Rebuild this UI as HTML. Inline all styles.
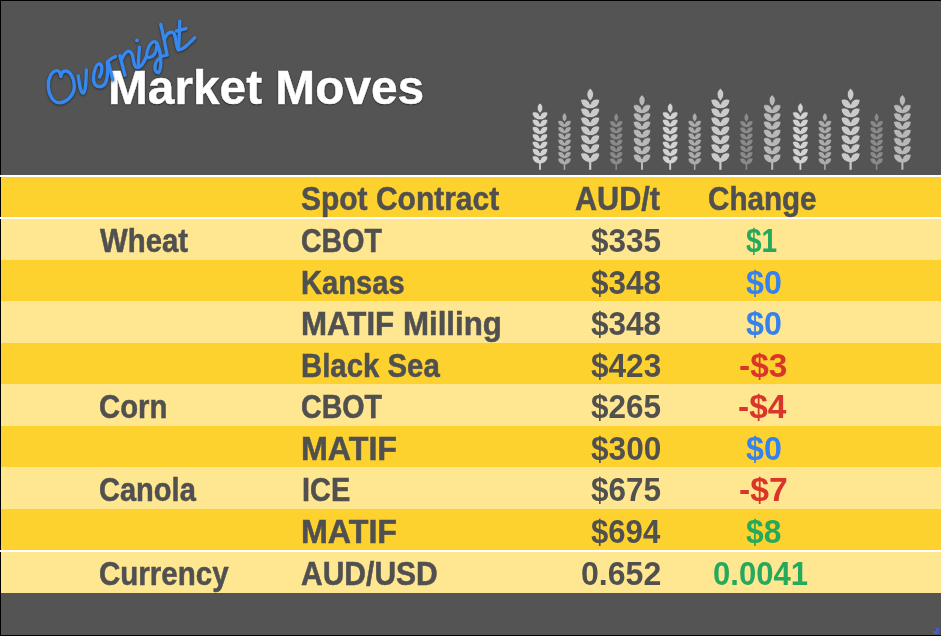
<!DOCTYPE html>
<html><head><meta charset="utf-8"><style>html,body{margin:0;padding:0}
body{width:941px;height:636px;position:relative;overflow:hidden;background:#545454;font-family:"Liberation Sans",sans-serif}
.b{position:absolute;left:0;width:941px}
.t{position:absolute;white-space:nowrap;font-weight:bold;line-height:normal;font-size:32.5px;transform-origin:0 0;-webkit-text-stroke:0.5px currentColor}
</style></head><body>
<div class="b" style="top:175px;height:2px;background:#fff"></div><div class="b" style="top:177px;height:40px;background:#FED22E"></div><div class="b" style="top:217px;height:2px;background:#fff"></div><div class="b" style="top:219px;height:41px;background:#FFE690"></div><div class="b" style="top:260px;height:41px;background:#FED22E"></div><div class="b" style="top:301px;height:42px;background:#FFE690"></div><div class="b" style="top:343px;height:41px;background:#FED22E"></div><div class="b" style="top:384px;height:42px;background:#FFE690"></div><div class="b" style="top:426px;height:41px;background:#FED22E"></div><div class="b" style="top:467px;height:42px;background:#FFE690"></div><div class="b" style="top:509px;height:41px;background:#FED22E"></div><div class="b" style="top:550px;height:2px;background:#fff"></div><div class="b" style="top:552px;height:41px;background:#FFE690"></div><div class="t" style="left:300.93px;top:180.59px;color:#505050;transform:scaleX(0.9225);">Spot Contract</div><div class="t" style="left:574.97px;top:180.59px;color:#505050;transform:scaleX(0.9413);">AUD/t</div><div class="t" style="left:708.48px;top:180.59px;color:#505050;transform:scaleX(0.9111);">Change</div><div class="t" style="left:99.90px;top:222.59px;color:#505050;transform:scaleX(0.9033);">Wheat</div><div class="t" style="left:301.22px;top:222.59px;color:#505050;transform:scaleX(0.8783);">CBOT</div><div class="t" style="left:590.99px;top:222.59px;color:#505050;transform:scaleX(0.9683);-webkit-text-stroke-width:0px;">$335</div><div class="t" style="left:746.06px;top:222.59px;color:#25A95C;transform:scaleX(0.8626);-webkit-text-stroke-width:0px;">$1</div><div class="t" style="left:301.08px;top:264.59px;color:#505050;transform:scaleX(0.8959);">Kansas</div><div class="t" style="left:591.09px;top:264.59px;color:#505050;transform:scaleX(0.9695);-webkit-text-stroke-width:0px;">$348</div><div class="t" style="left:745.98px;top:264.59px;color:#3581EE;transform:scaleX(0.9898);-webkit-text-stroke-width:0px;">$0</div><div class="t" style="left:300.96px;top:305.59px;color:#505050;transform:scaleX(0.9624);">MATIF Milling</div><div class="t" style="left:591.09px;top:305.59px;color:#505050;transform:scaleX(0.9695);-webkit-text-stroke-width:0px;">$348</div><div class="t" style="left:745.98px;top:305.59px;color:#3581EE;transform:scaleX(0.9898);-webkit-text-stroke-width:0px;">$0</div><div class="t" style="left:301.06px;top:347.59px;color:#505050;transform:scaleX(0.9035);">Black Sea</div><div class="t" style="left:591.09px;top:347.59px;color:#505050;transform:scaleX(0.9713);-webkit-text-stroke-width:0px;">$423</div><div class="t" style="left:738.64px;top:347.59px;color:#D9352A;transform:scaleX(1.0284);-webkit-text-stroke-width:0px;">-$3</div><div class="t" style="left:99.09px;top:388.59px;color:#505050;transform:scaleX(0.9007);">Corn</div><div class="t" style="left:301.02px;top:388.59px;color:#505050;transform:scaleX(0.8805);">CBOT</div><div class="t" style="left:591.09px;top:388.59px;color:#505050;transform:scaleX(0.9683);-webkit-text-stroke-width:0px;">$265</div><div class="t" style="left:738.44px;top:388.59px;color:#D9352A;transform:scaleX(1.0295);-webkit-text-stroke-width:0px;">-$4</div><div class="t" style="left:300.90px;top:430.59px;color:#505050;transform:scaleX(0.9913);">MATIF</div><div class="t" style="left:591.09px;top:430.59px;color:#505050;transform:scaleX(0.9728);-webkit-text-stroke-width:0px;">$300</div><div class="t" style="left:745.98px;top:430.59px;color:#3581EE;transform:scaleX(0.9898);-webkit-text-stroke-width:0px;">$0</div><div class="t" style="left:99.10px;top:471.59px;color:#505050;transform:scaleX(0.8933);">Canola</div><div class="t" style="left:301.59px;top:471.59px;color:#505050;transform:scaleX(0.8892);">ICE</div><div class="t" style="left:591.09px;top:471.59px;color:#505050;transform:scaleX(0.9683);-webkit-text-stroke-width:0px;">$675</div><div class="t" style="left:738.63px;top:471.59px;color:#D9352A;transform:scaleX(1.0367);-webkit-text-stroke-width:0px;">-$7</div><div class="t" style="left:300.90px;top:513.59px;color:#505050;transform:scaleX(0.9913);">MATIF</div><div class="t" style="left:591.10px;top:513.59px;color:#505050;transform:scaleX(0.9573);-webkit-text-stroke-width:0px;">$694</div><div class="t" style="left:745.98px;top:513.59px;color:#25A95C;transform:scaleX(0.9775);-webkit-text-stroke-width:0px;">$8</div><div class="t" style="left:99.08px;top:555.59px;color:#505050;transform:scaleX(0.9081);">Currency</div><div class="t" style="left:300.88px;top:555.59px;color:#505050;transform:scaleX(0.9238);">AUD/USD</div><div class="t" style="left:580.96px;top:555.59px;color:#505050;transform:scaleX(0.9870);-webkit-text-stroke-width:0px;">0.652</div><div class="t" style="left:713.00px;top:555.59px;color:#25A95C;transform:scaleX(0.9553);-webkit-text-stroke-width:0px;">0.0041</div>
<svg width="941" height="636" style="position:absolute;left:0;top:0"><defs><g id="st" stroke="#4E4E4E" stroke-width="0.9"><path d="M0,0 C4.5,3 4.5,9 0,12.6 C-4.5,9 -4.5,3 0,0 Z"/><path d="M-9.6,11.80 C-7.5,10.00 -1.8,10.00 0,16.00 C1.8,10.00 7.5,10.00 9.6,11.80 C9.2,17.30 4.5,20.80 0,20.40 C-4.5,20.80 -9.2,17.30 -9.6,11.80 Z"/><path d="M-9.6,20.75 C-7.5,18.95 -1.8,18.95 0,24.95 C1.8,18.95 7.5,18.95 9.6,20.75 C9.2,26.25 4.5,29.75 0,29.35 C-4.5,29.75 -9.2,26.25 -9.6,20.75 Z"/><path d="M-9.6,29.70 C-7.5,27.90 -1.8,27.90 0,33.90 C1.8,27.90 7.5,27.90 9.6,29.70 C9.2,35.20 4.5,38.70 0,38.30 C-4.5,38.70 -9.2,35.20 -9.6,29.70 Z"/><path d="M-9.6,38.65 C-7.5,36.85 -1.8,36.85 0,42.85 C1.8,36.85 7.5,36.85 9.6,38.65 C9.2,44.15 4.5,47.65 0,47.25 C-4.5,47.65 -9.2,44.15 -9.6,38.65 Z"/><path d="M-9.6,47.60 C-7.5,45.80 -1.8,45.80 0,51.80 C1.8,45.80 7.5,45.80 9.6,47.60 C9.2,53.10 4.5,56.60 0,56.20 C-4.5,56.60 -9.2,53.10 -9.6,47.60 Z"/><path d="M-9.6,56.55 C-7.5,54.75 -1.8,54.75 0,60.75 C1.8,54.75 7.5,54.75 9.6,56.55 C9.2,62.05 4.5,65.55 0,65.15 C-4.5,65.55 -9.2,62.05 -9.6,56.55 Z"/><path d="M-9.6,65.50 C-7.5,63.70 -1.8,63.70 0,69.70 C1.8,63.70 7.5,63.70 9.6,65.50 C9.2,71.00 4.5,74.50 0,74.10 C-4.5,74.50 -9.2,71.00 -9.6,65.50 Z"/><rect x="-1.1" y="70" width="2.2" height="11.5" stroke="none"/></g></defs><use href="#st" transform="translate(540.00,103) scale(0.8196)" fill="#D2D2D2"/><use href="#st" transform="translate(564.50,113) scale(0.6969)" fill="#ABABAB"/><use href="#st" transform="translate(590.20,88.3) scale(1.0000)" fill="#CACACA"/><use href="#st" transform="translate(616.20,113.3) scale(0.6933)" fill="#8A8A8A"/><use href="#st" transform="translate(642.00,94.7) scale(0.9215)" fill="#B8B8B8"/><use href="#st" transform="translate(670.20,103) scale(0.8196)" fill="#D2D2D2"/><use href="#st" transform="translate(694.70,113) scale(0.6969)" fill="#ABABAB"/><use href="#st" transform="translate(720.40,88.3) scale(1.0000)" fill="#CACACA"/><use href="#st" transform="translate(746.40,113.3) scale(0.6933)" fill="#8A8A8A"/><use href="#st" transform="translate(772.20,94.7) scale(0.9215)" fill="#B8B8B8"/><use href="#st" transform="translate(800.40,103) scale(0.8196)" fill="#D2D2D2"/><use href="#st" transform="translate(824.90,113) scale(0.6969)" fill="#ABABAB"/><use href="#st" transform="translate(850.60,88.3) scale(1.0000)" fill="#CACACA"/><use href="#st" transform="translate(876.60,113.3) scale(0.6933)" fill="#8A8A8A"/><use href="#st" transform="translate(902.40,94.7) scale(0.9215)" fill="#B8B8B8"/></svg>
<div class="t" style="left:107.7px;top:59px;font-size:49px;color:#fff;transform:scaleX(0.9755);text-shadow:0 0 2px rgba(0,0,0,.7),0 0.5px 1.5px rgba(0,0,0,.5)">Market Moves</div>
<svg width="941" height="636" style="position:absolute;left:0;top:0;filter:drop-shadow(0 1px 1px rgba(0,0,0,.5))" fill="none" stroke="#3588F0" stroke-width="3.4" stroke-linecap="round" stroke-linejoin="round">
<path d="M60.9,76.6 C60.2,72.5 58.8,70.6 57,70.6 C51.5,70.8 47.8,79 48.3,86.5 C48.8,95 53,102.8 59.5,102.8 C66.5,102.8 74.5,95 74.3,86 C74.2,78 70,71 65.5,71 C62.8,71 61.3,73.5 60.9,76.6"/>
<path d="M78.2,76 C79.5,84 80.5,93 83.2,93.2 C85.8,93.4 86.2,78 86.3,70"/>
<path d="M99.5,77 C102,73 103,66 100,64 C96,63 93.5,72 93.5,79 C93.5,85 97,87 100,86.8 C103,86.5 105.5,84 106.5,80 C107.5,76 108,68 107.2,62 C109.5,60 112,57.5 115.4,56.6"/>
<path d="M108.8,63.8 C110,69 111.5,75 112.7,79.7"/>
<path d="M119.9,55.7 L125,75.2 M121.2,60.5 C123.5,55 126,51.3 128.7,51.3 C131.5,51.3 133,56 133.8,62 C134.4,66 136,67.8 138.2,67.6"/>
<path d="M139.4,47.5 C139,53 138.3,61 138.3,65.5 C138.3,68 140.5,67 142.5,64 C144,61.5 145.5,59 146.3,57"/>
<circle cx="137" cy="40.6" r="2" fill="#3588F0" stroke="none"/>
<path d="M146.5,57 C146.5,51 149.5,43 153.6,41.8 C155.8,41.3 157,42.6 157,44.5 C156.8,49 155.5,54 152.6,56.2 C150.2,57.8 147.2,58 146.5,57"/>
<path d="M157,43.5 C159,48 161,55 160.8,62 C160.7,68 160,72.7 158.2,72.7 C155,72.5 154,68 155.7,63.3 C157,59 162,55.8 167,54.8"/>
<path d="M167,54.8 C165.5,47 163.5,35 160.7,24.4"/>
<path d="M164.2,39.5 C166,35 169,32 172,32.3 C175,32.7 175.5,38 176.5,44 C177,47 177.5,49 178.5,50"/>
<path d="M179.8,21.2 C179.5,30 179,42 178.5,49 C180,51 184,48 187.6,44.9 C190,42.5 192.5,40 194.6,37.8"/>
<path d="M176.5,31 L186,28.6"/>
</svg>
<div style="position:absolute;left:0;top:0;width:941px;height:1px;background:#000"></div>
<div style="position:absolute;left:0;top:635px;width:941px;height:1px;background:#000"></div>
<div style="position:absolute;left:0;top:0;width:1px;height:636px;background:#000"></div>
<div style="position:absolute;left:0;top:175px;width:1px;height:2px;background:#fff"></div>
<div style="position:absolute;left:0;top:217px;width:1px;height:2px;background:#fff"></div>
<div style="position:absolute;left:0;top:550px;width:1px;height:2px;background:#fff"></div>
<div style="position:absolute;left:936px;top:628px;width:3px;height:6px;background:#4A5CC0"></div>
<div style="position:absolute;left:933px;top:631px;width:6px;height:3px;background:#4A5CC0"></div>
</body></html>
